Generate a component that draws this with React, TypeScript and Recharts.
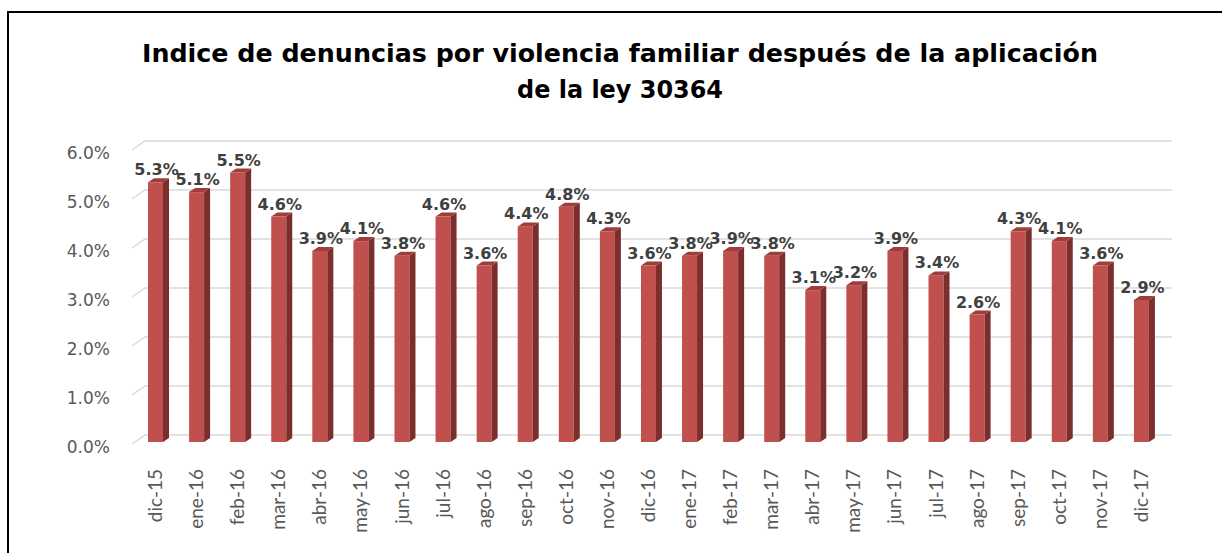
import React from 'react';
import { BarChart, Bar, XAxis, YAxis, CartesianGrid, LabelList } from 'recharts';

const months = ['dic-15','ene-16','feb-16','mar-16','abr-16','may-16','jun-16','jul-16','ago-16','sep-16','oct-16','nov-16','dic-16','ene-17','feb-17','mar-17','abr-17','may-17','jun-17','jul-17','ago-17','sep-17','oct-17','nov-17','dic-17'];
const indice = [5.3,5.1,5.5,4.6,3.9,4.1,3.8,4.6,3.6,4.4,4.8,4.3,3.6,3.8,3.9,3.8,3.1,3.2,3.9,3.4,2.6,4.3,4.1,3.6,2.9];
const yTicks = [0,1,2,3,4,5,6];
const titleLine1 = 'Indice de denuncias por violencia familiar después de la aplicación';
const titleLine2 = 'de la ley 30364';

const data = months.map((m, i) => ({ mes: m, valor: indice[i] }));

const FRONT = '#C0504D';
const SIDE = '#7B2E2C';
const TOP = '#A03D3A';

const Bar3D = (props: any) => {
  const { x, y, width, height } = props;
  if (height == null || isNaN(height)) return null;
  const fx = x + 6;
  const fw = 15;
  const d = 6;
  const up = 4;
  const top = y - 2;
  const bottom = y + height - 2;
  return (
    <g>
      <rect x={fx} y={top} width={fw} height={bottom - top} fill={FRONT} />
      <path d={`M${fx + fw},${top} L${fx + fw + d},${top - up} L${fx + fw + d},${bottom - up} L${fx + fw},${bottom} Z`} fill={SIDE} />
      <path d={`M${fx},${top} L${fx + d},${top - up} L${fx + fw + d},${top - up} L${fx + fw},${top} Z`} fill={TOP} />
    </g>
  );
};

const ValueLabel = (props: any) => {
  const { x, y, value } = props;
  const cx = x + 6 + 7.5 + 1;
  return (
    <text x={cx} y={y - 9} textAnchor="middle" fill="#404040" fontFamily="DejaVu Sans" fontWeight="bold" fontSize={16}>
      {Number(value).toFixed(1) + '%'}
    </text>
  );
};

const XTick = (props: any) => {
  const { x, y, payload } = props;
  const tx = x + 2;
  return (
    <text x={tx} y={y} transform={`rotate(-90, ${tx}, ${y})`} textAnchor="end" dominantBaseline="central" fill="#595959" fontFamily="Lato" fontSize={19}>
      {payload.value}
    </text>
  );
};

const YTick = (props: any) => {
  const { x, y, payload } = props;
  return (
    <text x={x} y={y + 3} textAnchor="end" dominantBaseline="central" fill="#595959" fontFamily="DejaVu Sans" fontSize={17}>
      {Number(payload.value).toFixed(1) + '%'}
    </text>
  );
};

const GridLine = (props: any) => {
  const { x1, y1, x2 } = props;
  const dx = 13;
  const dy = 9;
  return (
    <path
      key={props.key}
      d={`M${x1},${y1} L${x1 + dx},${y1 - dy} L${x2 + dx},${y1 - dy}`}
      stroke="#D9D9D9"
      strokeWidth={1.5}
      fill="none"
    />
  );
};

export default function App() {
  return (
    <div style={{ position: 'absolute', left: 0, top: 0, width: 1222, height: 553, overflow: 'hidden', background: '#fff' }}>
      <div style={{ position: 'absolute', left: 7, top: 11, width: 1300, height: 700, borderTop: '2px solid #000', borderLeft: '2px solid #000' }} />
      <svg width={1222} height={120} style={{ position: 'absolute', left: 0, top: 0 }}>
        <text x={620} y={62} textAnchor="middle" fontFamily="DejaVu Sans" fontWeight="bold" fontSize={24} fill="#000" textLength={956} lengthAdjust="spacingAndGlyphs">
          {titleLine1}
        </text>
        <text x={620} y={98} textAnchor="middle" fontFamily="DejaVu Sans" fontWeight="bold" fontSize={24} fill="#000" textLength={206} lengthAdjust="spacingAndGlyphs">
          {titleLine2}
        </text>
      </svg>
      <div style={{ position: 'absolute', left: 0, top: 0 }}>
        <BarChart width={1222} height={553} data={data} margin={{ top: 150, right: 63, left: 72, bottom: 49 }}>
          <CartesianGrid vertical={false} horizontal={GridLine} />
          <XAxis dataKey="mes" axisLine={false} tickLine={false} tickSize={0} tickMargin={25} height={60} interval={0} tick={<XTick />} />
          <YAxis domain={[0, 6]} ticks={yTicks} axisLine={false} tickLine={false} tickSize={0} tickMargin={22} width={60} tick={<YTick />} />
          <Bar dataKey="valor" barSize={21} shape={<Bar3D />} isAnimationActive={false}>
            <LabelList dataKey="valor" content={<ValueLabel />} />
          </Bar>
        </BarChart>
      </div>
    </div>
  );
}
